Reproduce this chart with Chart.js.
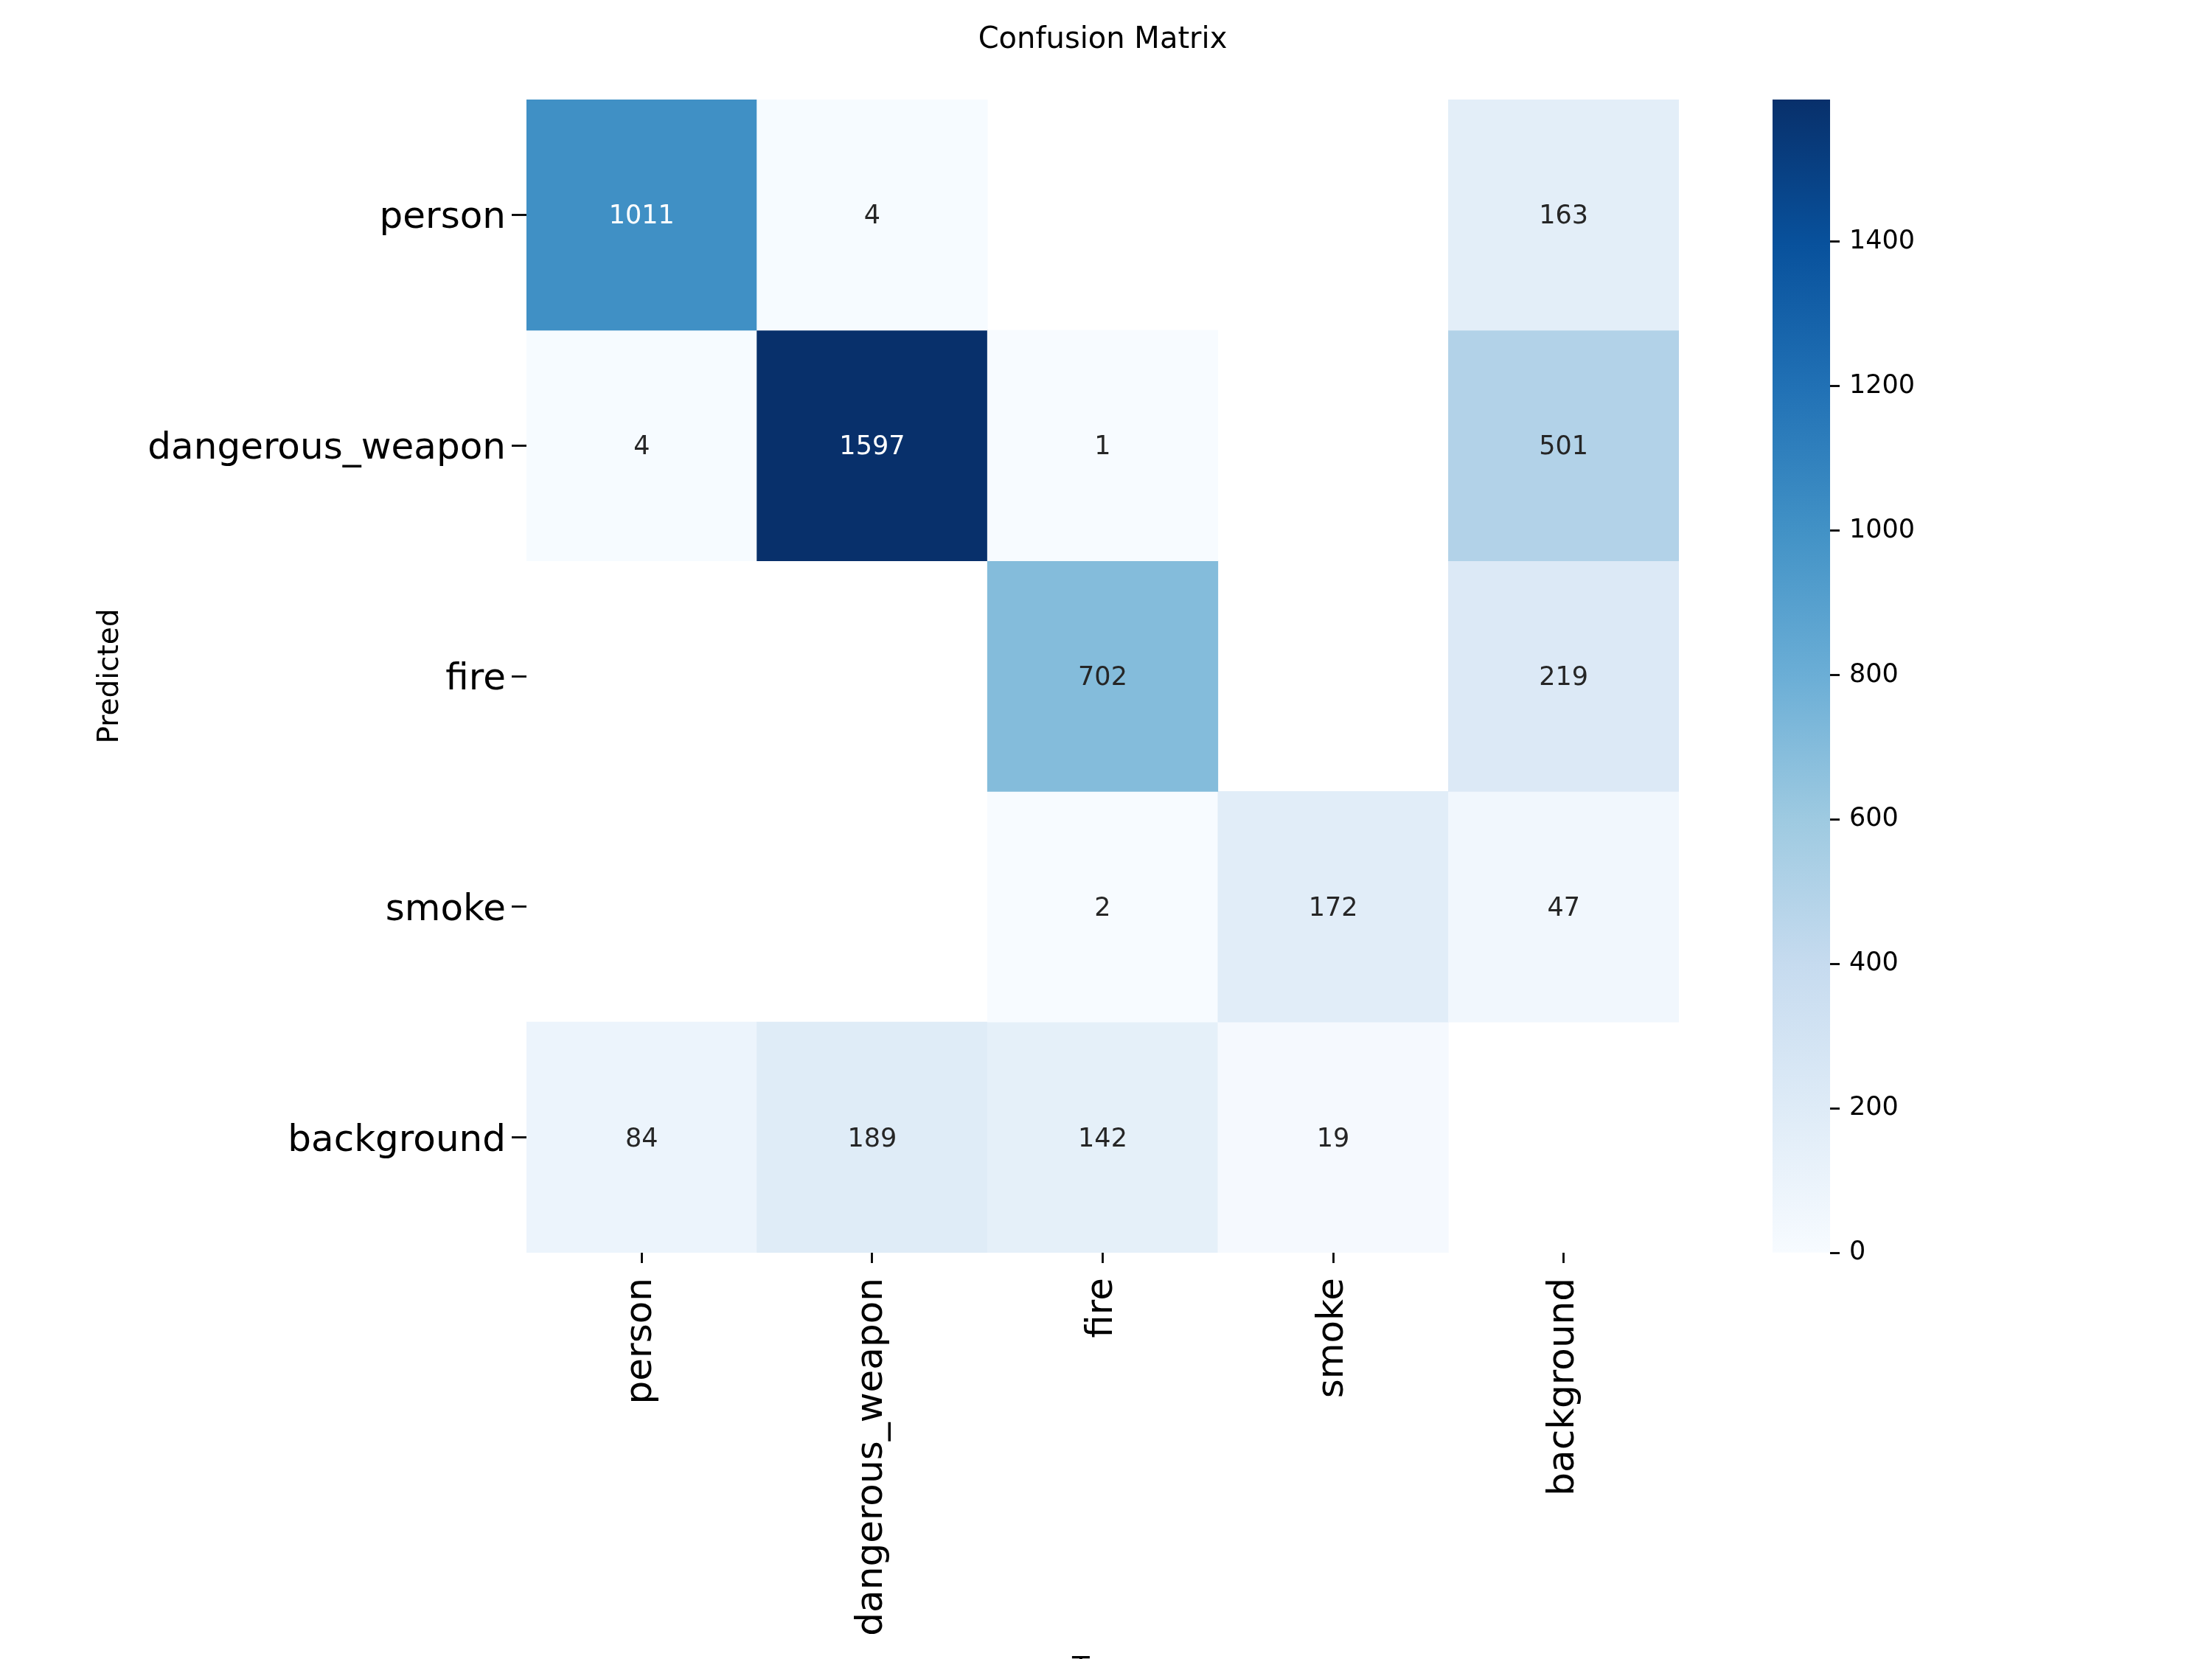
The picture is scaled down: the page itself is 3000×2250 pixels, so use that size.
<!DOCTYPE html>
<html>
<head>
<meta charset="utf-8">
<script src="https://cdn.jsdelivr.net/npm/chart.js@4.4.0/dist/chart.umd.min.js"></script>
<style>
  body { margin: 0; background: #fff; }
  #wrap { position: relative; width: 3000px; height: 2250px; }
  canvas { position: absolute; top: 0; }
</style>
</head>
<body>
<div id="wrap">
  <canvas id="matrix" width="3000" height="2250" style="left:0"></canvas>
  <canvas id="colorbar" width="700" height="2250" style="left:2300px"></canvas>
</div>
<script>
// columns = true class, rows = predicted class
const trueLabels = ["person", "dangerous_weapon", "fire", "smoke", "background"];
const predLabels = ["person", "dangerous_weapon", "fire", "smoke", "background"];

const predPerson = [1011, 4, 0, 0, 163];
const predWeapon = [4, 1597, 1, 0, 501];
const predFire = [0, 0, 702, 0, 219];
const predSmoke = [0, 0, 2, 172, 47];
const predBackground = [84, 189, 142, 19, 0];

const colorbarTicks = [0, 200, 400, 600, 800, 1000, 1200, 1400];

// matplotlib "Blues"
const bluesStops = ["#f7fbff", "#deebf7", "#c6dbef", "#9ecae1", "#6baed6",
                    "#4292c6", "#2171b5", "#08519c", "#08306b"];

const FONT = "'DejaVu Sans', 'Liberation Sans', sans-serif";
const rows = [predPerson, predWeapon, predFire, predSmoke, predBackground];
const vmax = Math.max(...rows.flat());

const hexToRgb = (h) => [1, 3, 5].map((i) => parseInt(h.slice(i, i + 2), 16));

const blues = (t) => {
  t = Math.min(1, Math.max(0, t));
  const pos = t * (bluesStops.length - 1);
  const i = Math.min(Math.floor(pos), bluesStops.length - 2);
  const f = pos - i;
  const a = hexToRgb(bluesStops[i]);
  const b = hexToRgb(bluesStops[i + 1]);
  return a.map((c, k) => Math.round(c + (b[k] - c) * f));
};

const rgbStr = (rgb) => `rgb(${rgb[0]}, ${rgb[1]}, ${rgb[2]})`;

// same rule seaborn uses to pick annotation colour
const textColor = (v) => {
  const lin = blues(v / vmax).map((c) => {
    c = c / 255;
    return c <= 0.03928 ? c / 12.92 : Math.pow((c + 0.055) / 1.055, 2.4);
  });
  const lum = 0.2126 * lin[0] + 0.7152 * lin[1] + 0.0722 * lin[2];
  return lum > 0.408 ? "#262626" : "#ffffff";
};

const datasets = rows.map((row, r) => ({
  label: predLabels[r],
  data: row.map((v) => (v > 0 ? [r - 0.5, r + 0.5] : null)),
  counts: row,
  backgroundColor: row.map((v) => rgbStr(blues(v / vmax))),
  borderWidth: 0,
  grouped: false,
  barPercentage: 1,
  categoryPercentage: 1,
}));

// write the count in the middle of each cell
const cellText = {
  id: "cellText",
  afterDatasetsDraw(chart) {
    const ctx = chart.ctx;
    ctx.save();
    ctx.font = `35px ${FONT}`;
    ctx.textAlign = "center";
    ctx.textBaseline = "middle";
    chart.data.datasets.forEach((ds, r) => {
      chart.getDatasetMeta(r).data.forEach((bar, c) => {
        const v = ds.counts[c];
        if (!v) return;
        const { x, y, base } = bar.getProps(["x", "y", "base"], true);
        ctx.fillStyle = textColor(v);
        ctx.fillText(String(v), x, (y + base) / 2 + 3);
      });
    });
    ctx.restore();
  },
};

const tickGrid = (len) => ({
  offset: false,
  drawOnChartArea: false,
  drawTicks: true,
  tickLength: len,
  tickWidth: 2.8,
  tickColor: "#000",
  color: "#000",
});

new Chart(document.getElementById("matrix"), {
  type: "bar",
  data: { labels: trueLabels, datasets: datasets },
  options: {
    responsive: false,
    animation: false,
    devicePixelRatio: 1,
    layout: { padding: { left: 0, right: 723, top: 0, bottom: 0 } },
    plugins: {
      legend: { display: false },
      tooltip: { enabled: false },
      title: {
        display: true,
        fullSize: false,
        text: "Confusion Matrix",
        color: "#000",
        font: { family: FONT, size: 40, weight: "normal", lineHeight: 1.2 },
        padding: { top: 31, bottom: 56 },
      },
    },
    scales: {
      x: {
        type: "category",
        offset: true,
        grid: tickGrid(14),
        border: { display: false },
        ticks: {
          autoSkip: false,
          minRotation: 90,
          maxRotation: 90,
          padding: 20,
          color: "#000",
          font: { family: FONT, size: 50 },
        },
        title: {
          display: true,
          text: "True",
          color: "#000",
          font: { family: FONT, size: 39 },
          padding: { top: 0, bottom: -38 },
        },
        afterFit: (scale) => { scale.height = 551; },
      },
      y: {
        type: "linear",
        min: -0.5,
        max: 4.5,
        reverse: true,
        grid: tickGrid(20),
        border: { display: false },
        afterBuildTicks: (scale) => {
          scale.ticks = predLabels.map((_, i) => ({ value: i }));
        },
        ticks: {
          padding: 8,
          labelOffset: 5,
          color: "#000",
          font: { family: FONT, size: 50 },
          callback: (value) => predLabels[value],
        },
        title: {
          display: true,
          text: "Predicted",
          color: "#000",
          font: { family: FONT, size: 39 },
          padding: { top: 126, bottom: 0 },
        },
        afterFit: (scale) => { scale.width = 714; },
      },
    },
  },
  plugins: [cellText],
});

// colour bar
new Chart(document.getElementById("colorbar"), {
  type: "bar",
  data: {
    labels: [""],
    datasets: [{
      data: [vmax],
      borderWidth: 0,
      barPercentage: 1,
      categoryPercentage: 1,
      backgroundColor: (context) => {
        const { ctx, chartArea } = context.chart;
        if (!chartArea) return bluesStops[0];
        const g = ctx.createLinearGradient(0, chartArea.bottom, 0, chartArea.top);
        bluesStops.forEach((c, i) => g.addColorStop(i / (bluesStops.length - 1), c));
        return g;
      },
    }],
  },
  options: {
    responsive: false,
    animation: false,
    devicePixelRatio: 1,
    layout: { padding: { left: 104, right: 318, top: 135, bottom: 551 } },
    plugins: {
      legend: { display: false },
      tooltip: { enabled: false },
    },
    scales: {
      x: { display: false },
      y: {
        position: "right",
        min: 0,
        max: vmax,
        grid: tickGrid(13),
        border: { display: false },
        afterBuildTicks: (scale) => {
          scale.ticks = colorbarTicks.map((v) => ({ value: v }));
        },
        ticks: {
          padding: 13,
          color: "#000",
          font: { family: FONT, size: 35 },
          callback: (value) => String(value),
        },
        afterFit: (scale) => { scale.width = 200; },
      },
    },
  },
});
</script>
</body>
</html>
